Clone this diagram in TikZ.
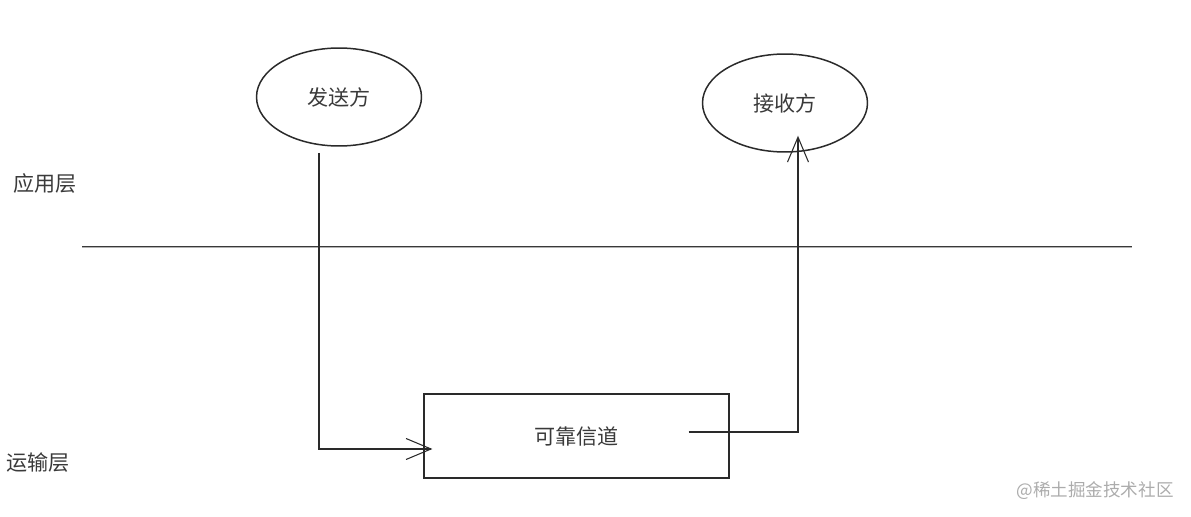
\documentclass[tikz,border=0pt]{standalone}
\usepackage{fontspec}
\usepackage{tikz}
\usetikzlibrary{arrows.meta,shapes.geometric}
\newfontfamily\cjk{Noto Sans CJK SC}
\definecolor{inkgray}{HTML}{2A2A2A}
\definecolor{txtgray}{HTML}{3A3A3A}
\tikzset{
  party/.style     = {ellipse, draw=inkgray, line width=0.85pt, font=\cjk\fontsize{12}{14}\selectfont,
                      text=txtgray, minimum width=3.3cm, minimum height=1.96cm},
  chanbox/.style   = {rectangle, draw=inkgray, line width=0.7pt, font=\cjk\fontsize{12}{14}\selectfont,
                      text=txtgray, minimum width=6.1cm, minimum height=1.68cm},
  flowar/.style    = {-{Straight Barb[length=5mm,width=4.2mm]}, inkgray, line width=0.6pt},
  layerlab/.style  = {font=\cjk\fontsize{12}{14}\selectfont, text=txtgray},
  sepline/.style   = {draw=gray!45!black, double=gray!60, double distance=0.4pt, line width=0.55pt}
}
\begin{document}
\begin{tikzpicture}[x=0.02cm,y=-0.02cm]
  \useasboundingbox (0,0) rectangle (1191,517);
  \node[party]   (sender)   at (339,97)    {发送方};
  \node[party]   (receiver) at (785,103)   {接收方};
  \node[chanbox] (channel)  at (576.5,436) {可靠信道};
  \node[layerlab] (applayer) at (45,183) {应用层};
  \node[layerlab] (tplayer)  at (38,463) {运输层};
  \draw[sepline] (82,247) -- (1132,247);
  \coordinate (sendout) at (319,153);
  \draw[flowar] (sendout) |- ([xshift=0.18cm,yshift=-0.26cm]channel.west);
  \draw[flowar] ([xshift=-0.82cm,yshift=0.08cm]channel.east)
        -| ([xshift=0.26cm,yshift=0.34cm]receiver.south);
  \node[font=\cjk\fontsize{10}{12}\selectfont, text=gray!65] (mark) at (1095,491) {@稀土掘金技术社区};
\end{tikzpicture}
\end{document}
